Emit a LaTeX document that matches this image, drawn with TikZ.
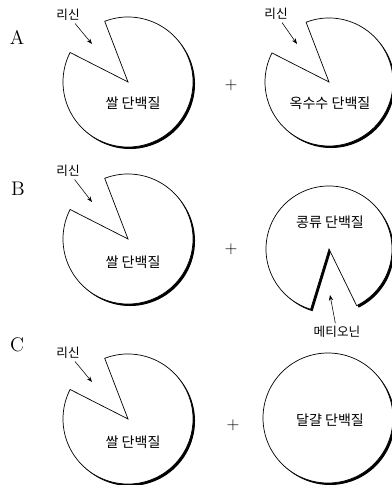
\documentclass[tikz,border=0pt]{standalone}
\usepackage{fontspec}
\newfontfamily\kr{Noto Sans CJK KR}
\usepackage{tikz}
\usetikzlibrary{arrows.meta, positioning, calc}

\tikzset{
  protein/.style={draw=black, fill=white, line width=0.5pt},
  shadowfill/.style={fill=black},
  rowlabel/.style={font=\fontsize{14}{14}\selectfont},
  protname/.style={font=\kr\fontsize{10}{12}\selectfont},
  amino/.style={font=\kr\fontsize{9}{11}\selectfont, inner sep=1pt},
  ptr/.style={-{Stealth[length=4pt, width=3pt]}, line width=0.4pt, shorten <=1pt},
  plus/.style={font=\fontsize{12}{12}\selectfont}
}

% center, radius, arc start, arc end
\newcommand{\proteinblob}[4]{%
  \fill[shadowfill] ([shift={(2,-2)}]#1) -- ++(#3:#2) arc[start angle=#3, end angle=#4, radius=#2] -- cycle;
  \filldraw[protein] (#1) -- ++(#3:#2) arc[start angle=#3, end angle=#4, radius=#2] -- cycle;}

\begin{document}
\begin{tikzpicture}[x=0.025cm, y=0.025cm]
\useasboundingbox (0,0) rectangle (392,485);

\coordinate (cA1) at (128,403);
\coordinate (cA2) at (329,403);
\coordinate (cB1) at (128,246);
\coordinate (cB2) at (329,236);
\coordinate (cC1) at (128,66);
\coordinate (cC2) at (328,67);

% A
\node[rowlabel] (rowA) at (17,448) {A};
\proteinblob{cA1}{65}{111}{-207}
\proteinblob{cA2}{64}{111}{-207}
\node[protname] (riceA) at (133,382) {쌀 단백질};
\node[protname] (cornA) at (330,382) {옥수수 단백질};
\node[plus] (plusA) at (231,400) {+};
\node[amino] (lysA1) at (68,470) {리신};
\coordinate (lysA1tip) at (92,441);
\draw[ptr] (lysA1) -- (lysA1tip);
\node[amino] (lysA2) at (276,471) {리신};
\coordinate (lysA2tip) at (297,441);
\draw[ptr] (lysA2) -- (lysA2tip);

% B
\node[rowlabel] (rowB) at (18,296) {B};
\proteinblob{cB1}{65}{111}{-207}
\proteinblob{cB2}{63}{296}{613}
\node[protname] (riceB) at (133,223) {쌀 단백질};
\node[protname] (beanB) at (330,263) {콩류 단백질};
\node[plus] (plusB) at (231,236) {+};
\node[amino] (lysB) at (68,314) {리신};
\coordinate (lysBtip) at (92,283);
\draw[ptr] (lysB) -- (lysBtip);
\node[amino] (metB) at (337,153) {메티오닌};
\coordinate (metBtip) at (330,190);
\draw[ptr] (metB) -- (metBtip);

% C
\node[rowlabel] (rowC) at (17,140) {C};
\proteinblob{cC1}{65}{111}{-207}
\fill[shadowfill] ([shift={(2,-2)}]cC2) circle[radius=65];
\filldraw[protein] (cC2) circle[radius=65];
\node[protname] (riceC) at (133,43) {쌀 단백질};
\node[protname] (eggC) at (330,65) {달걀 단백질};
\node[plus] (plusC) at (233,60) {+};
\node[amino] (lysC) at (68,132) {리신};
\coordinate (lysCtip) at (92,103);
\draw[ptr] (lysC) -- (lysCtip);
\end{tikzpicture}
\end{document}
